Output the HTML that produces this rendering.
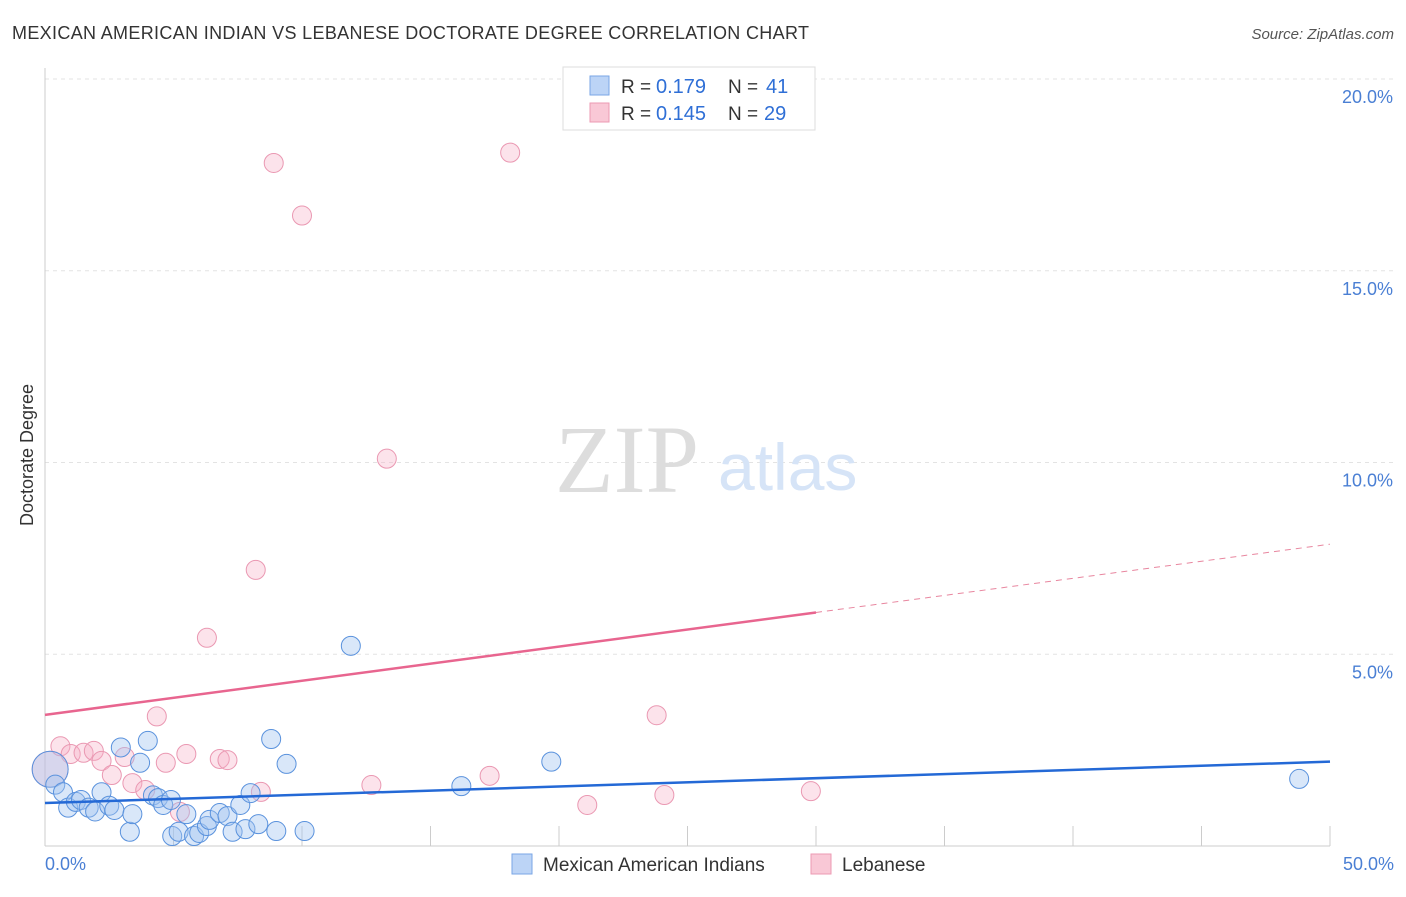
<!DOCTYPE html>
<html><head><meta charset="utf-8"><style>
body{margin:0;background:#fff;font-family:"Liberation Sans",sans-serif;}
svg text{font-family:"Liberation Sans",sans-serif;}
</style></head><body>
<svg width="1406" height="892">
<text x="12" y="39" font-size="18" fill="#333" textLength="797">MEXICAN AMERICAN INDIAN VS LEBANESE DOCTORATE DEGREE CORRELATION CHART</text>
<text x="1394" y="39" font-size="15" fill="#555" font-style="italic" text-anchor="end">Source: ZipAtlas.com</text>
<g id="grid"></g>
<line x1="45" y1="68" x2="45" y2="846" stroke="#ccc"/>
<line x1="45" y1="846" x2="1330" y2="846" stroke="#ccc"/>
<text x="33" y="455" font-size="18" fill="#333" transform="rotate(-90 33 455)" text-anchor="middle">Doctorate Degree</text>
<text x="45" y="870" font-size="18" fill="#4a7fd4">0.0%</text>
<text x="1394" y="870" font-size="18" fill="#4a7fd4" text-anchor="end">50.0%</text>
<text x="555" y="492" font-size="96" fill="#ddd" style="font-family:'Liberation Serif',serif">ZIP</text>
<text x="718" y="490" font-size="66" fill="#d6e4f7">atlas</text>
<g id="marks"></g>
<g>
<rect x="563" y="67" width="252" height="63" fill="#fff" stroke="#ddd"/>
<rect x="590" y="76" width="19" height="19" fill="#bcd4f6" stroke="#7aa6e6"/>
<rect x="590" y="103" width="19" height="19" fill="#f9c8d6" stroke="#ec9ab3"/>
<text x="621" y="93" font-size="19" fill="#333">R =</text><text x="656" y="93" font-size="20" fill="#2f6fd6">0.179</text>
<text x="728" y="93" font-size="19" fill="#333">N =</text><text x="766" y="93" font-size="20" fill="#2f6fd6">41</text>
<text x="621" y="120" font-size="19" fill="#333">R =</text><text x="656" y="120" font-size="20" fill="#2f6fd6">0.145</text>
<text x="728" y="120" font-size="19" fill="#333">N =</text><text x="764" y="120" font-size="20" fill="#2f6fd6">29</text>
</g>
<g>
<rect x="512" y="854" width="20" height="20" fill="#bcd4f6" stroke="#7aa6e6"/>
<text x="543" y="871" font-size="19" fill="#333">Mexican American Indians</text>
<rect x="811" y="854" width="20" height="20" fill="#f9c8d6" stroke="#ec9ab3"/>
<text x="842" y="871" font-size="19" fill="#333">Lebanese</text>
</g>
</svg>
<script>
const yTicks=[5,10,15,20];
const xTickVals=[5,10,15,20,25,30,35,40,45,50];
const blueX=[0.2,0.4,0.7,0.9,1.2,1.4,1.7,1.95,2.2,2.5,2.7,2.95,3.3,3.4,3.7,4.0,4.2,4.4,4.6,4.9,4.95,5.2,5.5,5.8,6.0,6.3,6.4,6.8,7.1,7.3,7.6,7.8,8.0,8.3,8.8,9.0,9.4,10.1,11.9,16.2,19.7,48.8];
const blueY=[2.0,1.6,1.4,1.0,1.15,1.2,1.0,0.9,1.4,1.05,0.94,2.57,0.37,0.83,2.17,2.74,1.32,1.25,1.07,1.2,0.26,0.37,0.83,0.26,0.34,0.52,0.68,0.86,0.78,0.37,1.07,0.44,1.38,0.57,2.79,0.39,2.14,0.39,5.22,1.56,2.2,1.75];
const pinkX=[0.2,0.6,1.0,1.5,1.9,2.2,2.6,3.1,3.4,3.9,4.35,4.7,5.25,5.5,6.3,6.8,7.1,8.2,8.4,8.9,10.0,12.7,13.3,17.3,18.1,21.1,23.8,24.1,29.8];
const pinkY=[2.0,2.6,2.4,2.43,2.48,2.22,1.85,2.32,1.64,1.46,3.38,2.17,0.89,2.4,5.43,2.27,2.24,7.2,1.41,17.81,16.44,1.59,10.1,1.83,18.08,1.07,3.41,1.33,1.43];
const blueFit=[1.12,2.2];
const pinkFit=[3.42,7.87];
const L=45,R=1330,T=79,B=846;
const xs=v=>L+v/50*(R-L);
const ys=v=>B-v/20*(B-T);
const NS="http://www.w3.org/2000/svg";
const grid=document.getElementById('grid'),marks=document.getElementById('marks');
yTicks.forEach(t=>{
 const l=document.createElementNS(NS,'line');
 
 
 l.setAttribute('x1',L);l.setAttribute('x2',1394);l.setAttribute('y1',ys(t));l.setAttribute('y2',ys(t));
 l.setAttribute('stroke','#e3e3e3');l.setAttribute('stroke-dasharray','4 4');grid.appendChild(l);
 const tx=document.createElementNS(NS,'text');
 
 
 tx.setAttribute('x',1393);tx.setAttribute('y',ys(t)+24);tx.setAttribute('text-anchor','end');
 tx.setAttribute('font-size','18');tx.setAttribute('fill','#4a7fd4');tx.textContent=t.toFixed(1)+'%';grid.appendChild(tx);
});
xTickVals.forEach(t=>{
 const l=document.createElementNS(NS,'line');
 
 
 l.setAttribute('x1',xs(t));l.setAttribute('x2',xs(t));l.setAttribute('y1',826);l.setAttribute('y2',846);
 l.setAttribute('stroke','#ccc');grid.appendChild(l);
});
function dots(X,Y,fill,stroke,name){
 X.forEach((x,i)=>{
  const c=document.createElementNS(NS,'circle');
  
  
  c.setAttribute('cx',xs(x));c.setAttribute('cy',ys(Y[i]));c.setAttribute('r',i===0?18:9.5);
  c.setAttribute('fill',fill);c.setAttribute('stroke',stroke);c.setAttribute('stroke-width','1');
  marks.appendChild(c);
 });
}
dots(pinkX,pinkY,'rgba(246,176,198,0.35)','#ea98b2','lebanese-point');
dots(blueX,blueY,'rgba(160,196,240,0.4)','#5a92dd','mexican-american-indian-point');
function line(x1,v1,x2,v2,color,dash,name,w){
 const l=document.createElementNS(NS,'line');
 
 
 l.setAttribute('x1',xs(x1));l.setAttribute('y1',ys(v1));l.setAttribute('x2',xs(x2));l.setAttribute('y2',ys(v2));
 l.setAttribute('stroke',color);l.setAttribute('stroke-width',w);if(dash)l.setAttribute('stroke-dasharray',dash);
 marks.appendChild(l);
}
const pAt=x=>pinkFit[0]+(pinkFit[1]-pinkFit[0])*x/50;
line(0,blueFit[0],50,blueFit[1],'#2469d6',null,'blue-trendline',2.5);
line(0,pinkFit[0],30,pAt(30),'#e8658f',null,'pink-trendline',2.5);
line(30,pAt(30),50,pinkFit[1],'#e8869f','6 5','pink-trendline-extension',1);
</script>
</body></html>
